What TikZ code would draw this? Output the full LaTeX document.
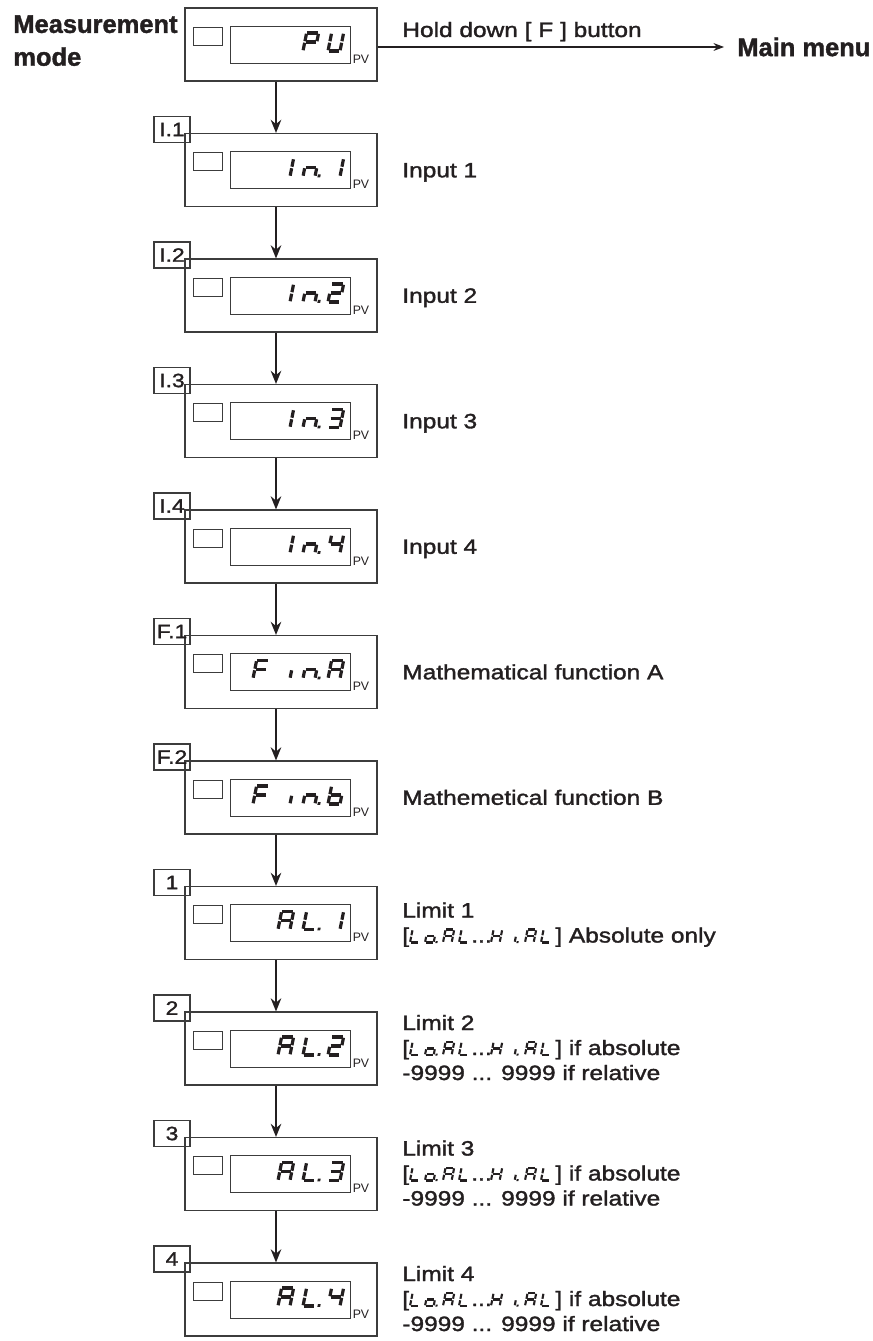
\documentclass[tikz,border=0pt]{standalone}
\usepackage{fontspec}
\setmainfont{Liberation Sans}
\newfontfamily\labelfont[FakeStretch=1.18,FakeBold=1.6]{Liberation Sans}
\newfontfamily\headfont[BoldFeatures={FakeBold=1.4}]{Liberation Sans}
\usetikzlibrary{arrows.meta,positioning}
\definecolor{inkgray}{RGB}{35,31,32}
\definecolor{framegray}{RGB}{60,60,60}

% seven-segment pieces (local units, baseline at 0)
\newcommand\lcda{\draw (0,18) -- (12,18);}
\newcommand\lcdb{\draw (12,18) -- (12,9);}
\newcommand\lcdc{\draw (12,9) -- (12,0);}
\newcommand\lcdd{\draw (0,0) -- (12,0);}
\newcommand\lcde{\draw (0,0) -- (0,9);}
\newcommand\lcdf{\draw (0,9) -- (0,18);}
\newcommand\lcdg{\draw (0,9) -- (12,9);}
\newcommand\lcdp{\fill (14.5,-0.9) rectangle (17.3,2);}
% scale, line width, x, baseline y, segments
\newcommand\lcdglyph[5]{%
  \begin{scope}[shift={(#3,#4)}, xslant=0.2, xscale=#1, yscale=-#1,
      line width=#2, shorten <=0.45pt, shorten >=0.45pt]
    \foreach \s in {#5} {\csname lcd\s\endcsname}
  \end{scope}}
% cell number, unit number, segments
\newcommand\lcdcell[3]{\lcdglyph{1}{1.8pt}{228+25*#1}{8+125.5*#2+43}{#3}}
% baseline y, tail text
\newcommand\rangeline[2]{%
  \node[note] at (402,#1) {[};
  \lcdglyph{0.72}{1.2pt}{410}{#1}{d,e,f}
  \lcdglyph{0.72}{1.2pt}{425}{#1}{c,d,e,g,p}
  \lcdglyph{0.72}{1.2pt}{443}{#1}{a,b,c,e,f,g}
  \lcdglyph{0.72}{1.2pt}{459}{#1}{d,e,f}
  \node[note] at (471,#1) {...};
  \lcdglyph{0.72}{1.2pt}{491}{#1}{b,c,e,f,g}
  \lcdglyph{0.72}{1.2pt}{506}{#1}{c,p}
  \lcdglyph{0.72}{1.2pt}{525}{#1}{a,b,c,e,f,g}
  \lcdglyph{0.72}{1.2pt}{541}{#1}{d,e,f}
  \node[note] at (555,#1) {] #2};}

\tikzset{
  meterbox/.style={draw=framegray, line width=0.6pt, minimum width=3.84cm,
    minimum height=1.46cm, inner sep=0},
  keybox/.style={draw=framegray, line width=0.5pt, minimum width=0.58cm,
    minimum height=0.36cm, inner sep=0},
  dispbox/.style={draw=framegray, line width=0.5pt, minimum width=2.4cm,
    minimum height=0.74cm, inner sep=0},
  tagbox/.style={draw=framegray, line width=0.6pt, minimum width=0.72cm,
    minimum height=0.52cm, inner sep=0, font=\labelfont\fontsize{11}{13}\selectfont},
  pvtext/.style={anchor=south west, inner sep=0, font=\fontsize{7}{8}\selectfont},
  note/.style={anchor=base west, inner sep=0, font=\labelfont\fontsize{11.8}{14}\selectfont},
  heading/.style={inner sep=0, font=\headfont\bfseries\fontsize{14.5}{18.7}\selectfont},
  flow/.style={line width=1.1pt, -{Stealth[length=7.5pt,width=6pt]}},
}

\begin{document}
\begin{tikzpicture}[x=0.02cm, y=-0.02cm, color=inkgray]
  \useasboundingbox (0,0) rectangle (872,1341);
  % Meter units
  \foreach \i in {0,...,10} {
    \pgfmathsetmacro\T{8+125.5*\i}
    \node[meterbox] (b\i) at (281,\T+36.5) {};
    \node[keybox] (k\i) at (207.5,\T+28) {};
    \node[dispbox] (d\i) at (290,\T+36.5) {};
    \node[pvtext, xshift=0.04cm] (pv\i) at (d\i.south east) {PV};
  }
  % Step tags
  \foreach \i/\tagtext in {1/I.1,2/I.2,3/I.3,4/I.4,5/F.1,6/F.2,7/1,8/2,9/3,10/4} {
    \pgfmathsetmacro\T{8+125.5*\i}
    \node[tagbox] (t\i) at (172,\T-4) {\tagtext};
  }
  % Arrows down the menu
  \foreach \i in {0,...,9} {
    \pgfmathtruncatemacro\j{\i+1}
    \draw[flow] ([xshift=-0.1cm]b\i.south) -- ([xshift=-0.1cm]b\j.north);
  }
  % Top row
  \node[heading, anchor=north west, align=left] (mode) at (13,15) {Measurement\\mode};
  \node[note] (hold) at (402,37) {Hold down [ F ] button};
  \node[heading, anchor=west] (menu) at (737,47) {Main menu};
  \draw[line width=0.6pt, -{Stealth[length=6pt,width=4.5pt]}]
    (b0.east |- menu.west) -- ([xshift=-0.26cm]menu.west);
  % Display contents
  \lcdcell{3}{0}{a,b,e,f,g} \lcdcell{4}{0}{b,c,d,e,f}
  \lcdcell{2}{1}{b,c} \lcdcell{3}{1}{c,e,g,p} \lcdcell{4}{1}{b,c}
  \lcdcell{2}{2}{b,c} \lcdcell{3}{2}{c,e,g,p} \lcdcell{4}{2}{a,b,g,e,d}
  \lcdcell{2}{3}{b,c} \lcdcell{3}{3}{c,e,g,p} \lcdcell{4}{3}{a,b,g,c,d}
  \lcdcell{2}{4}{b,c} \lcdcell{3}{4}{c,e,g,p} \lcdcell{4}{4}{f,g,b,c}
  \lcdcell{1}{5}{a,e,f,g} \lcdcell{2}{5}{c} \lcdcell{3}{5}{c,e,g,p} \lcdcell{4}{5}{a,b,c,e,f,g}
  \lcdcell{1}{6}{a,e,f,g} \lcdcell{2}{6}{c} \lcdcell{3}{6}{c,e,g,p} \lcdcell{4}{6}{c,d,e,f,g}
  \lcdcell{2}{7}{a,b,c,e,f,g} \lcdcell{3}{7}{d,e,f,p} \lcdcell{4}{7}{b,c}
  \lcdcell{2}{8}{a,b,c,e,f,g} \lcdcell{3}{8}{d,e,f,p} \lcdcell{4}{8}{a,b,g,e,d}
  \lcdcell{2}{9}{a,b,c,e,f,g} \lcdcell{3}{9}{d,e,f,p} \lcdcell{4}{9}{a,b,g,c,d}
  \lcdcell{2}{10}{a,b,c,e,f,g} \lcdcell{3}{10}{d,e,f,p} \lcdcell{4}{10}{f,g,b,c}
  % Descriptions
  \foreach \i/\desc in {1/Input 1,2/Input 2,3/Input 3,4/Input 4,
      5/Mathematical function A,6/Mathemetical function B} {
    \pgfmathsetmacro\T{8+125.5*\i}
    \node[note] (n\i) at (402,\T+43.8) {\desc};
  }
  \node[note] (n7) at (402,886.5+31) {Limit 1};
  \rangeline{886.5+56}{Absolute only}
  \foreach \i/\k in {8/2,9/3,10/4} {
    \pgfmathsetmacro\T{8+125.5*\i}
    \node[note] (n\i) at (402,\T+18) {Limit \k};
    \rangeline{\T+43}{if absolute}
    \node[note] (r\i) at (402,\T+68) {-9999 ... 9999 if relative};
  }
\end{tikzpicture}
\end{document}
